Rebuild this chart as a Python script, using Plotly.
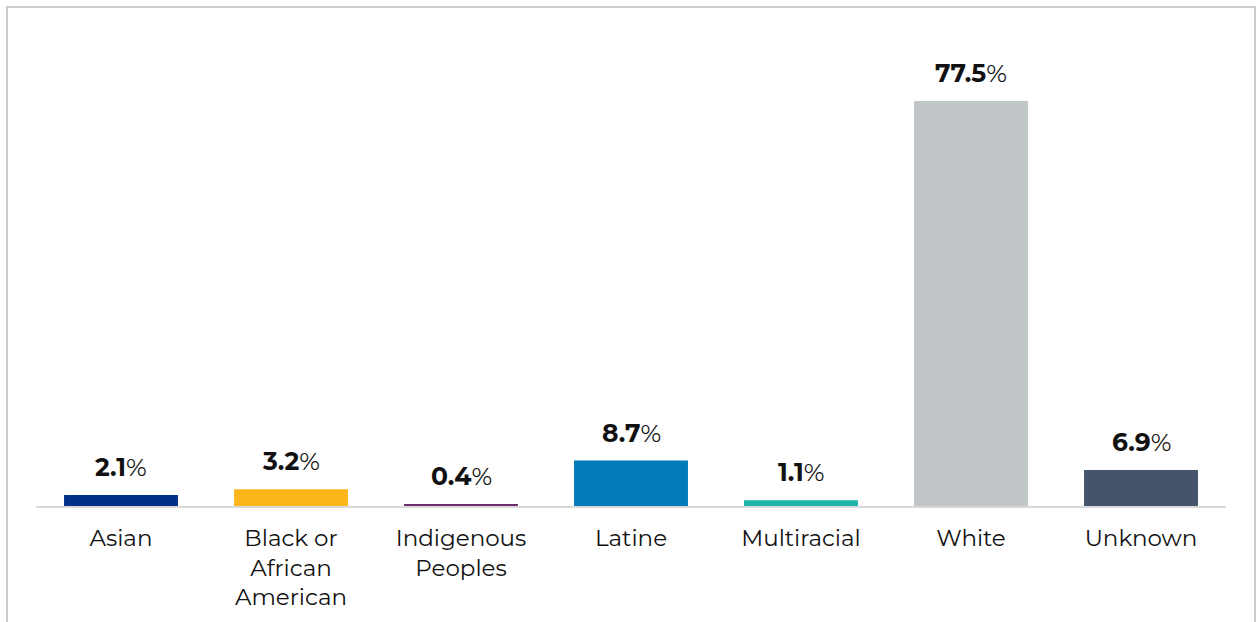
import plotly.graph_objects as go

categories = ["Asian", "Black or<br>African<br>American", "Indigenous<br>Peoples", "Latine",
              "Multiracial", "White", "Unknown"]
values = [2.1, 3.2, 0.4, 8.7, 1.1, 77.5, 6.9]
colors = ["#003087", "#FDB71A", "#6B2D6E", "#007AB8", "#1CB5AC", "#C1C6C8", "#44546A"]

FONT = "Montserrat, 'Noto Sans', 'Open Sans', sans-serif"

fig = go.Figure()
fig.add_trace(go.Bar(
    x=categories, y=values, marker=dict(color=colors, line=dict(width=0)),
    width=0.67, hoverinfo="skip",
))

for c, v in zip(categories, values):
    fig.add_annotation(x=c, y=v, xref="x", yref="y", text=f"<b>{v:.1f}</b>%",
                       showarrow=False, yanchor="bottom", yshift=11,
                       font=dict(family=FONT, size=25, color="#111111"))

# outer border frame
fig.add_shape(type="rect", xref="paper", yref="paper",
              x0=(7 - 36) / 1190, x1=(1255 - 36) / 1190,
              y0=(506 - 660) / 466, y1=(506 - 7) / 466,
              line=dict(color="#C8CCCC", width=2), fillcolor="rgba(0,0,0,0)", layer="below")

fig.update_layout(
    width=1260, height=622,
    margin=dict(l=36, r=34, t=40, b=116),
    paper_bgcolor="white", plot_bgcolor="white",
    showlegend=False,
    bargap=0.33,
    font=dict(family=FONT, size=23, color="#111111"),
)
fig.update_xaxes(showline=True, linecolor="#D9D9D9", linewidth=2, ticks="",
                 tickfont=dict(family=FONT, size=23, color="#111111"), showgrid=False,
                 ticklabelstandoff=10, fixedrange=True)
fig.update_yaxes(range=[0, 89.17], visible=False, showgrid=False, zeroline=False, fixedrange=True)

fig.write_html("out.html", config={"displayModeBar": False},
               post_script="document.body.style.margin='0';document.body.style.padding='0';")
